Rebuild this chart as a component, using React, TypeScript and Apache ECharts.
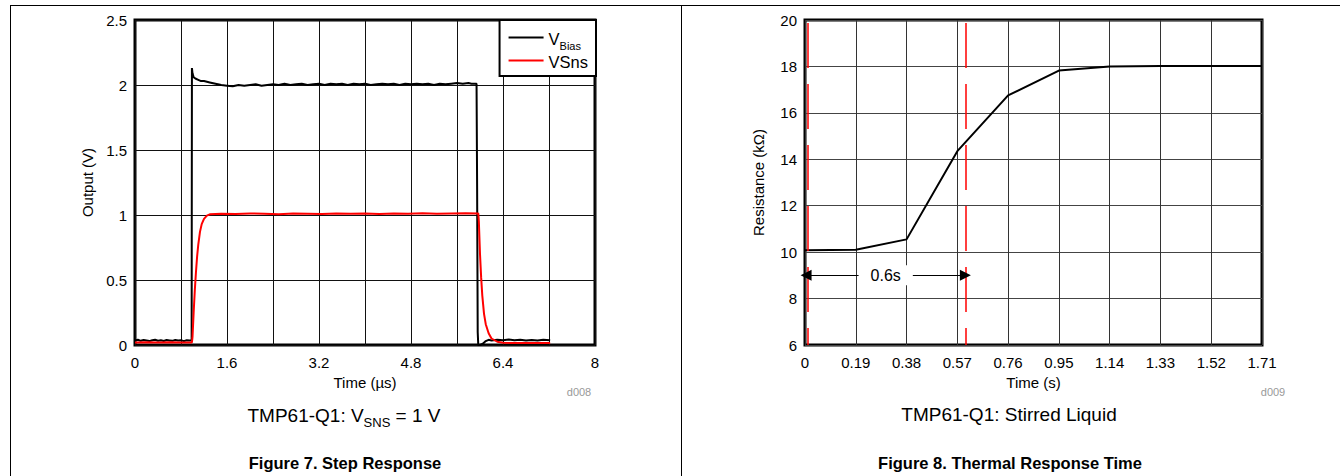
import React, { useEffect, useRef } from 'react';
import * as echarts from 'echarts';

// ---------- Figure 7: step response ----------
const biasTime = [
  0, 0.05, 0.1, 0.15, 0.2, 0.25, 0.3, 0.35, 0.4, 0.45, 0.5, 0.55, 0.6, 0.65, 0.7, 0.75, 0.8, 0.85, 0.9, 0.95, 0.985,
  0.99, 1.0, 1.02, 1.05, 1.1, 1.15, 1.2, 1.3, 1.4, 1.5, 1.6, 1.7, 1.8, 1.9, 2.0, 2.1, 2.2, 2.3, 2.4, 2.5, 2.6, 2.7,
  2.8, 2.9, 3.0, 3.1, 3.2, 3.3, 3.4, 3.5, 3.6, 3.7, 3.8, 3.9, 4.0, 4.1, 4.2, 4.3, 4.4, 4.5, 4.6, 4.7, 4.8, 4.9, 5.0,
  5.1, 5.2, 5.3, 5.4, 5.5, 5.6, 5.7, 5.8, 5.85, 5.9, 5.94, 5.95, 5.96, 5.97, 6.0, 6.05, 6.1, 6.15, 6.2, 6.3, 6.4,
  6.5, 6.6, 6.7, 6.8, 6.9, 7.0, 7.1, 7.22,
];
const biasVolt = [
  0.035, 0.04, 0.032, 0.038, 0.034, 0.03, 0.037, 0.04, 0.033, 0.036, 0.031, 0.038, 0.035, 0.032, 0.039, 0.034, 0.036, 0.03, 0.037, 0.035, 0.034,
  2.13, 2.09, 2.06, 2.05, 2.04, 2.03, 2.03, 2.02, 2.01, 2.0, 1.995, 1.99, 2.0, 1.995, 2.0, 2.005, 1.995, 2.0, 2.005, 2.0, 2.01, 2.0,
  2.005, 2.01, 2.0, 2.005, 2.01, 2.0, 2.01, 2.005, 2.01, 2.0, 2.01, 2.005, 2.01, 2.0, 2.005, 2.01, 2.005, 2.01, 2.0, 2.01, 2.005, 2.01, 2.005,
  2.01, 2.0, 2.01, 2.005, 2.01, 2.015, 2.01, 2.015, 2.01, 2.01, 2.01, 1.2, 0.1, 0.0, 0.0, 0.01, 0.03, 0.04, 0.035, 0.04, 0.037,
  0.042, 0.036, 0.04, 0.034, 0.039, 0.035, 0.04, 0.036,
];
const snsTime = [
  0, 0.2, 0.4, 0.6, 0.8, 0.99, 1.0, 1.02, 1.04, 1.06, 1.08, 1.1, 1.13, 1.16, 1.2, 1.25, 1.3, 1.5, 1.75, 2.0, 2.25,
  2.5, 2.75, 3.0, 3.25, 3.5, 3.75, 4.0, 4.25, 4.5, 4.75, 5.0, 5.25, 5.5, 5.75, 5.97, 5.98, 6.0, 6.02, 6.04, 6.07,
  6.1, 6.15, 6.2, 6.3, 6.4, 6.6, 7.0, 7.22,
];
const snsVolt = [
  0.02, 0.022, 0.02, 0.021, 0.02, 0.02, 0.06, 0.25, 0.42, 0.56, 0.68, 0.77, 0.87, 0.93, 0.97, 0.995, 1.005, 1.01, 1.008, 1.012, 1.01,
  1.006, 1.012, 1.01, 1.008, 1.012, 1.01, 1.012, 1.008, 1.012, 1.01, 1.014, 1.01, 1.012, 1.014, 1.012, 0.95, 0.7, 0.52, 0.38, 0.24,
  0.16, 0.09, 0.05, 0.025, 0.017, 0.015, 0.016, 0.015,
];

// ---------- Figure 8: thermal response ----------
const resTime = [0, 0.19, 0.38, 0.57, 0.76, 0.95, 1.14, 1.33, 1.52, 1.71];
const resKohm = [10.08, 10.1, 10.55, 14.35, 16.75, 17.82, 18.0, 18.02, 18.02, 18.02];
const markerTimes = [0.008, 0.6];
const spanLabel = '0.6s';
const spanLevel = 9;

const FONT = 'Liberation Sans, Arial, Helvetica, sans-serif';

const zip = (a: number[], b: number[]) => a.map((x, i) => [x, b[i]]);

export default function App() {
  const ref = useRef<HTMLDivElement>(null);
  useEffect(() => {
    if (!ref.current) return;
    const chart = echarts.init(ref.current, undefined, { renderer: 'svg' });
    const axisLabel = { color: '#000', fontSize: 15, fontFamily: FONT, margin: 8 };
    const nameStyle = { color: '#000', fontSize: 15, fontFamily: FONT };
    const dashStyle = { color: '#ff0000', width: 1.5, type: [45, 16] as any, dashOffset: 28 };
    chart.setOption({
      animation: false,
      textStyle: { fontFamily: FONT },
      grid: [
        { left: 135, top: 20, width: 460, height: 325, show: true, borderColor: '#000', borderWidth: 3, backgroundColor: 'transparent' },
        { left: 805, top: 20, width: 457, height: 325, show: true, borderColor: '#000', borderWidth: 3, backgroundColor: 'transparent' },
      ],
      legend: {
        data: ['VBias', 'VSns'],
        orient: 'vertical',
        right: 1340 - 596,
        top: 20,
        backgroundColor: '#fff',
        borderColor: '#000',
        borderWidth: 2,
        borderRadius: 0,
        padding: [10, 8, 6, 9],
        itemGap: 2,
        itemWidth: 35,
        itemHeight: 2,
        icon: 'rect',
        formatter: (n: string) => (n === 'VBias' ? '{a|V}{b|Bias}' : '{a|VSns}'),
        textStyle: {
          color: '#000',
          fontFamily: FONT,
          rich: {
            a: { fontSize: 16.5, fontFamily: FONT, color: '#000', lineHeight: 19, verticalAlign: 'bottom' },
            b: { fontSize: 11, fontFamily: FONT, color: '#000', lineHeight: 19, verticalAlign: 'bottom', padding: [0, 0, -4, 0] },
          },
        },
        z: 10,
      },
      xAxis: [
        {
          gridIndex: 0, type: 'value', min: 0, max: 8, interval: 1.6,
          name: 'Time (µs)', nameLocation: 'middle', nameGap: 30, nameTextStyle: nameStyle,
          axisLine: { show: false }, axisTick: { show: false },
          axisLabel: { ...axisLabel, margin: 10, formatter: (v: number) => String(+v.toFixed(2)) },
          splitLine: { show: true, lineStyle: { color: '#111', width: 1 } },
          minorTick: { show: false, splitNumber: 2 },
          minorSplitLine: { show: true, lineStyle: { color: '#111', width: 1 } },
        },
        {
          gridIndex: 1, type: 'value', min: 0, max: 1.71, interval: 0.19,
          name: 'Time (s)', nameLocation: 'middle', nameGap: 30, nameTextStyle: nameStyle,
          axisLine: { show: false }, axisTick: { show: false },
          axisLabel: { ...axisLabel, margin: 10, formatter: (v: number) => (v === 0 ? '0' : v.toFixed(2)) },
          splitLine: { show: true, lineStyle: { color: '#333', width: 1 } },
        },
      ],
      yAxis: [
        {
          gridIndex: 0, type: 'value', min: 0, max: 2.5, interval: 0.5,
          name: 'Output (V)', nameLocation: 'middle', nameGap: 40, nameTextStyle: nameStyle,
          axisLine: { show: false }, axisTick: { show: false },
          axisLabel: { ...axisLabel, formatter: (v: number) => String(+v.toFixed(2)) },
          splitLine: { show: true, lineStyle: { color: '#111', width: 1 } },
        },
        {
          gridIndex: 1, type: 'value', min: 6, max: 20, interval: 2,
          name: 'Resistance (kΩ)', nameLocation: 'middle', nameGap: 39, nameTextStyle: nameStyle,
          axisLine: { show: false }, axisTick: { show: false },
          axisLabel: { ...axisLabel },
          splitLine: { show: true, lineStyle: { color: '#444', width: 1 } },
        },
      ],
      series: [
        {
          name: 'VBias', type: 'line', xAxisIndex: 0, yAxisIndex: 0, showSymbol: false, symbol: 'none',
          data: zip(biasTime, biasVolt), lineStyle: { color: '#000', width: 2 }, itemStyle: { color: '#000' },
        },
        {
          name: 'VSns', type: 'line', xAxisIndex: 0, yAxisIndex: 0, showSymbol: false, symbol: 'none',
          data: zip(snsTime, snsVolt), lineStyle: { color: '#ff0000', width: 2 }, itemStyle: { color: '#ff0000' },
        },
        {
          name: 'Resistance', type: 'line', xAxisIndex: 1, yAxisIndex: 1, showSymbol: false, symbol: 'none',
          data: zip(resTime, resKohm), lineStyle: { color: '#000', width: 2 }, itemStyle: { color: '#000' },
          markLine: {
            silent: true,
            symbol: 'none',
            animation: false,
            data: [
              ...markerTimes.map((t) => ({ xAxis: t, lineStyle: dashStyle, label: { show: false } })),
              [
                {
                  coord: [0.004, spanLevel], symbol: 'triangle', symbolSize: 11,
                  lineStyle: { color: '#000', width: 1, type: 'solid' },
                  label: {
                    show: true, position: 'middle', formatter: spanLabel, color: '#000', fontSize: 16,
                    fontFamily: FONT, backgroundColor: '#fff', padding: [2, 12], distance: 0,
                    verticalAlign: 'middle', align: 'center',
                  },
                },
                { coord: [0.6, spanLevel], symbol: 'triangle', symbolSize: 11 },
              ],
            ],
          },
        },
      ],
      graphic: [
        { type: 'line', shape: { x1: 10, y1: 5.5, x2: 1340, y2: 5.5 }, style: { stroke: '#000', lineWidth: 1 } },
        { type: 'line', shape: { x1: 10.5, y1: 5, x2: 10.5, y2: 476 }, style: { stroke: '#000', lineWidth: 1 } },
        { type: 'line', shape: { x1: 681.5, y1: 5, x2: 681.5, y2: 476 }, style: { stroke: '#000', lineWidth: 1 } },
        { type: 'text', x: 579, y: 392, style: { text: 'd008', fill: '#999', font: `11px ${FONT}`, align: 'center', verticalAlign: 'middle' } },
        { type: 'text', x: 1273, y: 392, style: { text: 'd009', fill: '#999', font: `11px ${FONT}`, align: 'center', verticalAlign: 'middle' } },
        {
          type: 'text', x: 344, y: 414,
          style: {
            text: '{m|TMP61-Q1: V}{s|SNS}{m| = 1 V}', align: 'center', verticalAlign: 'middle',
            rich: {
              m: { fontSize: 19, fontFamily: FONT, fill: '#000', color: '#000', lineHeight: 22, verticalAlign: 'bottom' },
              s: { fontSize: 13, fontFamily: FONT, fill: '#000', color: '#000', lineHeight: 22, verticalAlign: 'bottom', padding: [0, 0, -4, 0] },
            },
          },
        },
        { type: 'text', x: 1009, y: 414, style: { text: 'TMP61-Q1: Stirred Liquid', fill: '#000', font: `19px ${FONT}`, align: 'center', verticalAlign: 'middle' } },
        { type: 'text', x: 345, y: 463, style: { text: 'Figure 7. Step Response', fill: '#000', font: `bold 16.5px ${FONT}`, align: 'center', verticalAlign: 'middle' } },
        { type: 'text', x: 1010, y: 463, style: { text: 'Figure 8. Thermal Response Time', fill: '#000', font: `bold 16.5px ${FONT}`, align: 'center', verticalAlign: 'middle' } },
      ],
    });
    return () => chart.dispose();
  }, []);
  return <div ref={ref} style={{ position: 'absolute', left: 0, top: 0, width: 1340, height: 476 }} />;
}
